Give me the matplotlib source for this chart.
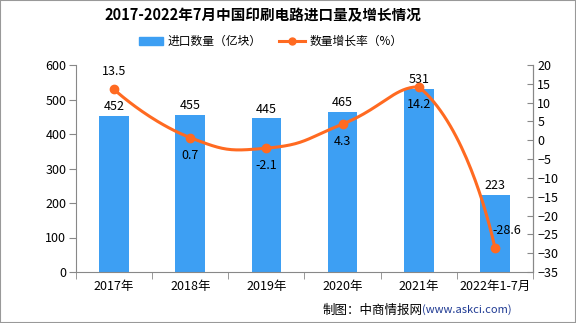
import numpy as np
import matplotlib
matplotlib.use("Agg")
import matplotlib.pyplot as plt
from matplotlib.patches import Rectangle

plt.rcParams['font.family'] = ['Noto Sans CJK SC', 'DejaVu Sans']

years = ["2017年", "2018年", "2019年", "2020年", "2021年", "2022年1-7月"]
imports = [452, 455, 445, 465, 531, 223]
growth = [13.5, 0.7, -2.1, 4.3, 14.2, -28.6]
# where the growth label sits relative to its point
growth_pos = ["above", "below", "below", "below", "below", "right"]

BLUE = "#3d9ff3"
ORANGE = "#ff6a21"
GRAY = "#888888"


def smooth(xs, ys, yscale, k=0.5, n=40):
    # bezier smoothing like echarts: control points from neighbours, clamped to data range
    xs = np.asarray(xs, float)
    ys = np.asarray(ys, float)
    lo, hi = ys.min(), ys.max()
    m = len(xs)
    cin, cout = [], []
    for i in range(m):
        if i == 0 or i == m - 1:
            cin.append((xs[i], ys[i]))
            cout.append((xs[i], ys[i]))
            continue
        vx, vy = xs[i + 1] - xs[i - 1], ys[i + 1] - ys[i - 1]
        d0 = np.hypot(xs[i] - xs[i - 1], (ys[i] - ys[i - 1]) * yscale)
        d1 = np.hypot(xs[i + 1] - xs[i], (ys[i + 1] - ys[i]) * yscale)
        f0, f1 = k * d0 / (d0 + d1), k * d1 / (d0 + d1)
        cin.append((xs[i] - vx * f0, np.clip(ys[i] - vy * f0, lo, hi)))
        cout.append((xs[i] + vx * f1, np.clip(ys[i] + vy * f1, lo, hi)))
    t = np.linspace(0, 1, n)[:, None]
    pts = []
    for i in range(m - 1):
        p0 = np.array([xs[i], ys[i]])
        p1 = np.array(cout[i])
        p2 = np.array(cin[i + 1])
        p3 = np.array([xs[i + 1], ys[i + 1]])
        pts.append((1 - t) ** 3 * p0 + 3 * (1 - t) ** 2 * t * p1 + 3 * (1 - t) * t ** 2 * p2 + t ** 3 * p3)
    pts = np.vstack(pts)
    return pts[:, 0], pts[:, 1]


fig = plt.figure(figsize=(5.76, 3.23), dpi=100)
fig.patches.append(Rectangle((0, 0), 1, 1, transform=fig.transFigure,
                             fill=False, edgecolor="#999999", lw=1.5))

ax = fig.add_axes([76 / 576, 51 / 323, 457 / 576, 207 / 323])
x = np.arange(len(years))
ax.bar(x, imports, width=0.39, color=BLUE, zorder=2)
for xi, v in zip(x, imports):
    ax.text(xi, v + 8, str(v), ha="center", va="bottom", fontsize=9)

ax.set_xlim(-0.5, len(years) - 0.5)
ax.set_ylim(0, 600)
ax.set_yticks(range(0, 601, 100))
ax.set_xticks(x)
ax.set_xticklabels(years, fontsize=9)
ax.set_xticks(np.arange(-0.5, len(years)), minor=True)
ax.tick_params(axis="x", which="major", length=0, pad=6)
ax.tick_params(axis="x", which="minor", length=5, color=GRAY)
ax.tick_params(axis="y", labelsize=9, length=5, color=GRAY, pad=2)
ax.spines["top"].set_visible(False)
for s in ("left", "bottom", "right"):
    ax.spines[s].set_color(GRAY)

ax2 = ax.twinx()
ax2.set_ylim(-35, 20)
ax2.set_yticks(range(-35, 21, 5))
ax2.set_yticklabels([str(v).replace("-", "\u2212") for v in range(-35, 21, 5)])
ax2.tick_params(axis="y", labelsize=9, length=4, direction="in", color=GRAY, pad=3)
ax2.spines["top"].set_visible(False)
ax2.spines["right"].set_color(GRAY)
ax2.spines["left"].set_visible(False)
ax2.spines["bottom"].set_visible(False)

# 76 px per category, 207/55 px per percent point
sx, sy = smooth(x, growth, yscale=(207 / 55) / 76)
ax2.plot(sx, sy, color=ORANGE, lw=2.2, zorder=3, solid_capstyle="round")
ax2.plot(x, growth, "o", color=ORANGE, ms=6, zorder=4)
for xi, v, pos in zip(x, growth, growth_pos):
    if pos == "above":
        ax2.annotate(f"{v}", (xi, v), xytext=(0, 8), textcoords="offset points",
                     ha="center", va="bottom", fontsize=9)
    elif pos == "below":
        ax2.annotate(f"{v}", (xi, v), xytext=(0, -8), textcoords="offset points",
                     ha="center", va="top", fontsize=9)
    else:
        ax2.annotate(f"{v}", (xi, v), xytext=(-2, 8), textcoords="offset points",
                     ha="left", va="bottom", fontsize=9)

fig.text(263 / 576, 1 - 15 / 323, "2017-2022年7月中国印刷电路进口量及增长情况",
         ha="center", va="center", fontsize=10.5, fontweight="bold")

# legend drawn by hand to match the layout
fig.patches.append(Rectangle((139 / 576, 1 - 45 / 323), 24 / 576, 8 / 323,
                             transform=fig.transFigure, color=BLUE))
fig.text(168 / 576, 1 - 41 / 323, "进口数量（亿块）", ha="left", va="center", fontsize=8.5)
fig.lines.append(plt.Line2D([279 / 576, 305 / 576], [1 - 41 / 323] * 2, transform=fig.transFigure,
                            color=ORANGE, lw=2.2))
fig.lines.append(plt.Line2D([292 / 576], [1 - 41 / 323], transform=fig.transFigure,
                            color=ORANGE, marker="o", ms=5))
fig.text(310 / 576, 1 - 41 / 323, "数量增长率（%）", ha="left", va="center", fontsize=8.5)

# footer: url right-aligned, source text placed just left of it
url = fig.text(512 / 576, 1 - 310 / 323, "(www.askci.com)", ha="right", va="center",
               fontsize=8, color="#1f3a93")
fig.canvas.draw()
bb = url.get_window_extent(renderer=fig.canvas.get_renderer())
fig.text(bb.x0 / fig.bbox.width, 1 - 310 / 323, "制图：中商情报网", ha="right", va="center",
         fontsize=9)

fig.savefig("out.png", dpi=100)
